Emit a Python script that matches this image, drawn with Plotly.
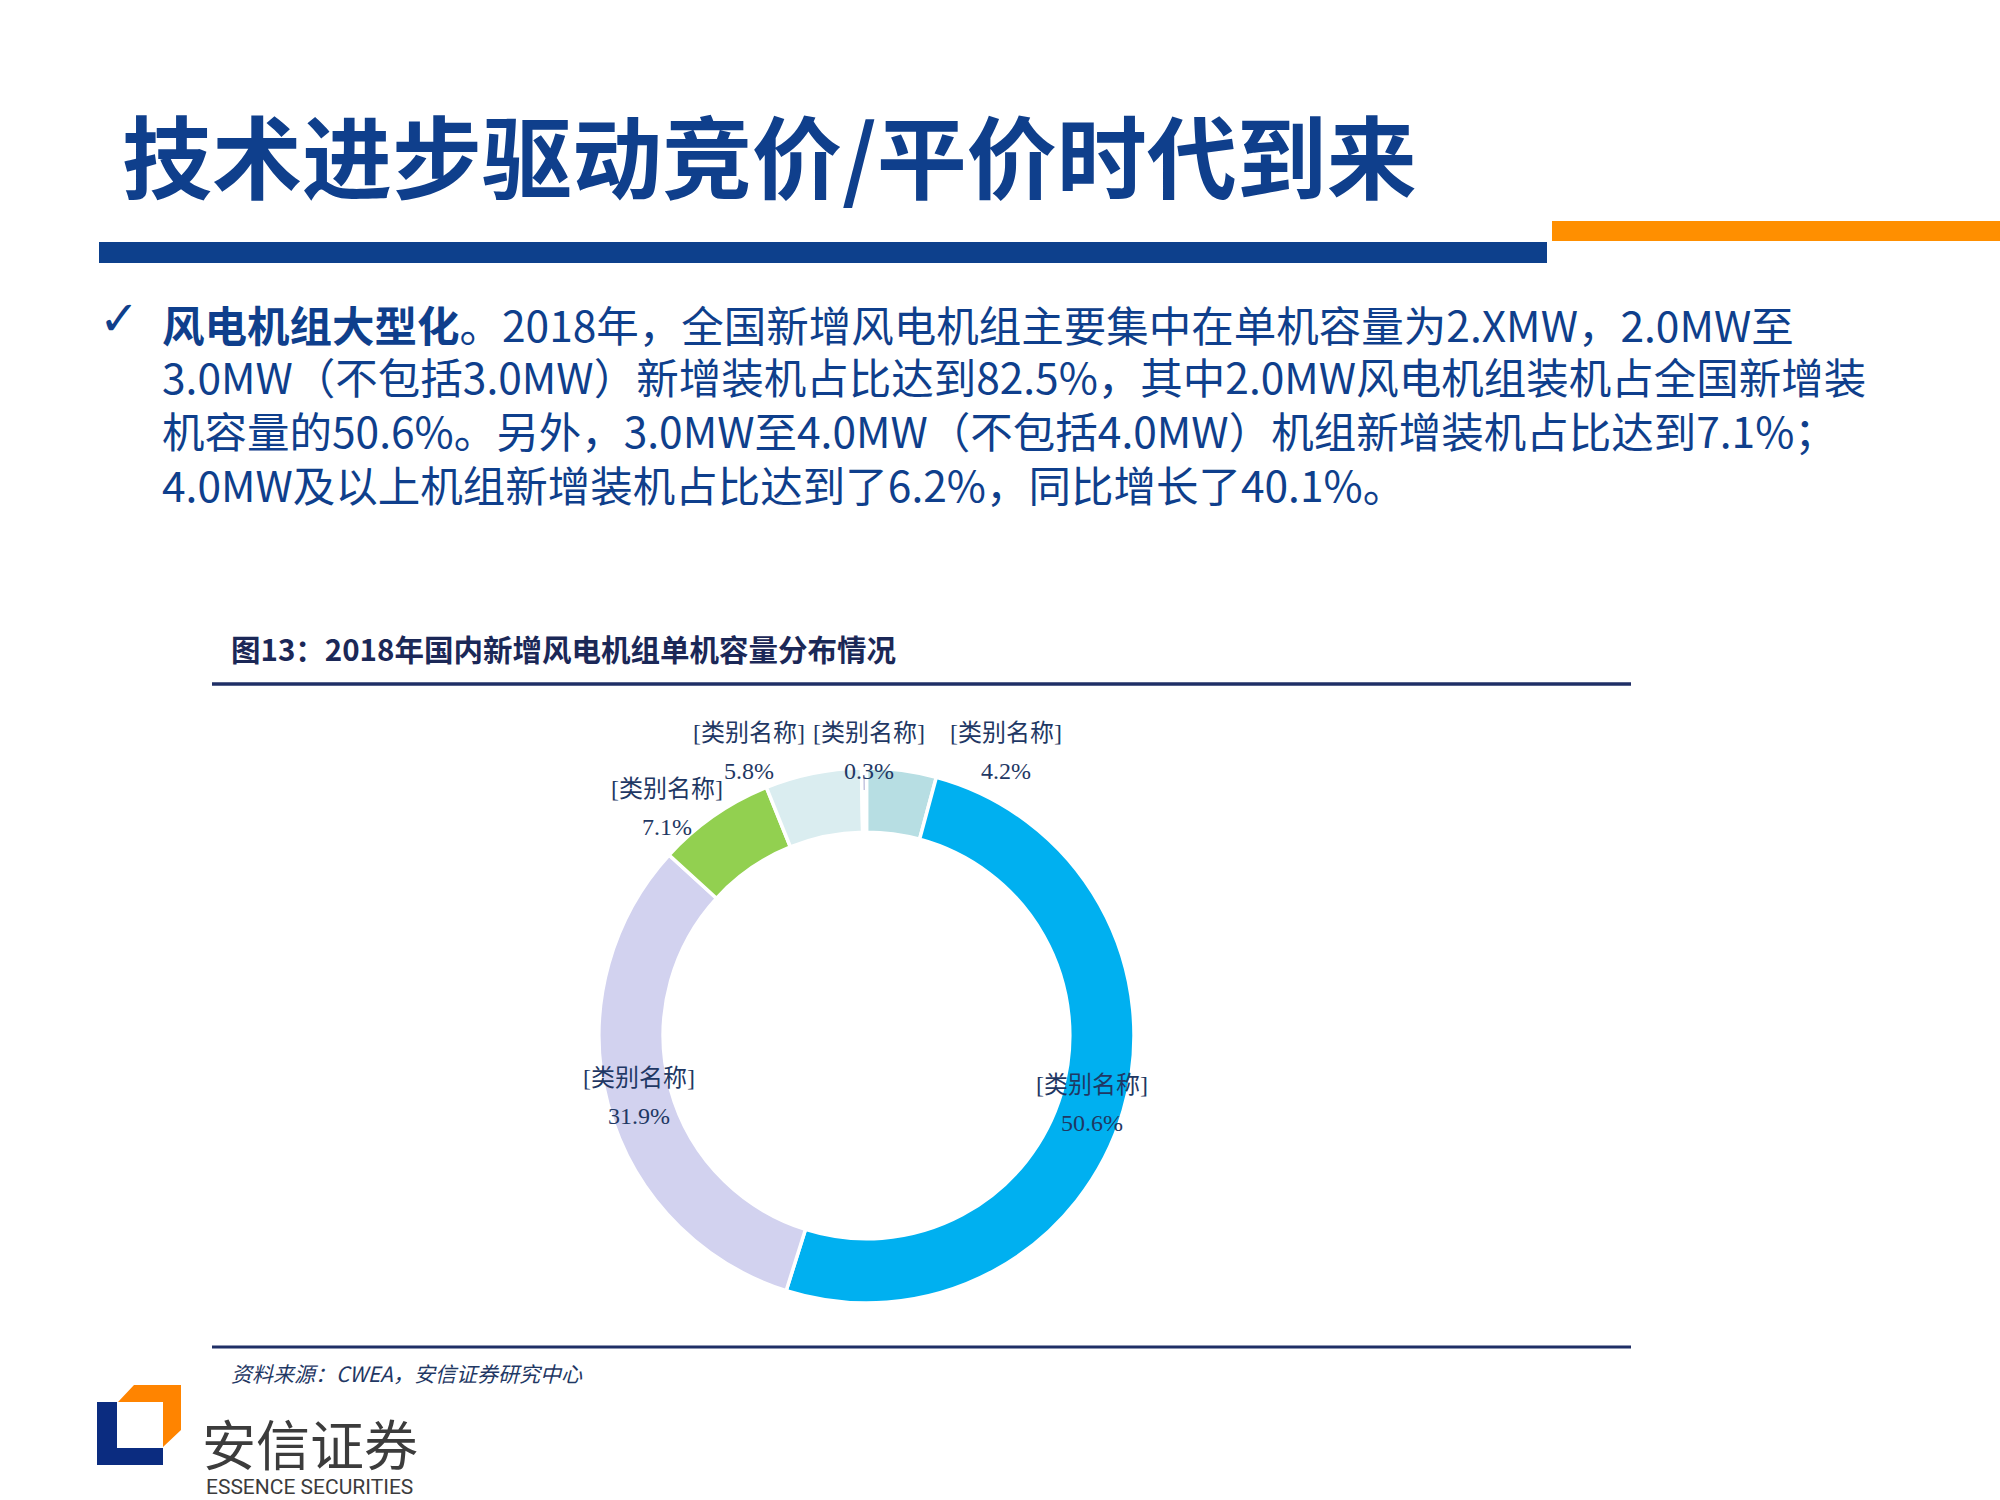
import math
import plotly.graph_objects as go

# ---------------- data ----------------
category_names = ["[类别名称]", "[类别名称]", "[类别名称]", "[类别名称]", "[类别名称]", "[类别名称]"]
shares = [4.2, 50.6, 31.9, 7.1, 5.8, 0.3]
slice_colors = ["#B7DEE3", "#00B0F0", "#D2D2EF", "#92D050", "#DAEDF0", "#FFFFFF"]

title_text = "技术进步驱动竞价/平价时代到来"
body_lines = [
    "<b>风电机组大型化</b>。2018年，全国新增风电机组主要集中在单机容量为2.XMW，2.0MW至",
    "3.0MW（不包括3.0MW）新增装机占比达到82.5%，其中2.0MW风电机组装机占全国新增装",
    "机容量的50.6%。另外，3.0MW至4.0MW（不包括4.0MW）机组新增装机占比达到7.1%；",
    "4.0MW及以上机组新增装机占比达到了6.2%，同比增长了40.1%。",
]
chart_title = "图13：2018年国内新增风电机组单机容量分布情况"
source_text = "资料来源：CWEA，安信证券研究中心"

# ---------------- layout helpers ----------------
W, H = 2000, 1500


def px(x):
    return x / W


def py(y):
    return 1 - y / H


BLUE = "#0F3F8C"
NAVY = "#1B2857"
LABEL = "#1F3864"

# donut geometry (pixels)
CX, CY, R = 866.5, 1035.5, 267.5
HOLE = 0.76

fig = go.Figure()
fig.add_trace(go.Pie(
    values=shares,
    sort=False,
    direction="clockwise",
    rotation=0,
    hole=HOLE,
    marker=dict(colors=slice_colors, line=dict(color="#FFFFFF", width=3.5)),
    textinfo="none",
    hoverinfo="percent",
    showlegend=False,
    domain=dict(x=[px(CX - R), px(CX + R)], y=[py(CY + R), py(CY - R)]),
))

annotations = []
shapes = []

# title
annotations.append(dict(x=px(120), y=py(153), xref="paper", yref="paper", xanchor="left", yanchor="middle",
                        text="<b>" + title_text + "</b>", showarrow=False,
                        font=dict(family="Noto Sans CJK SC", size=90, color=BLUE)))
# header bars
shapes.append(dict(type="rect", xref="paper", yref="paper", x0=px(99), x1=px(1547), y0=py(263), y1=py(242),
                   fillcolor="#0D408C", line=dict(width=0)))
shapes.append(dict(type="rect", xref="paper", yref="paper", x0=px(1552), x1=px(2000), y0=py(241), y1=py(221),
                   fillcolor="#FF8F00", line=dict(width=0)))

# check mark + body
annotations.append(dict(x=px(97), y=py(318), xref="paper", yref="paper", xanchor="left", yanchor="middle",
                        text="<b>✓</b>", showarrow=False,
                        font=dict(family="DejaVu Sans", size=48, color=BLUE)))
body_y = [324, 376, 429, 483]
for t, yy in zip(body_lines, body_y):
    annotations.append(dict(x=px(160), y=py(yy), xref="paper", yref="paper", xanchor="left", yanchor="middle",
                            text=t, showarrow=False,
                            font=dict(family="Noto Sans CJK SC", size=42.5, color=BLUE)))

# chart title and rules
annotations.append(dict(x=px(229), y=py(648), xref="paper", yref="paper", xanchor="left", yanchor="middle",
                        text="<b>" + chart_title + "</b>", showarrow=False,
                        font=dict(family="Noto Sans CJK SC", size=29.5, color=NAVY)))
shapes.append(dict(type="line", xref="paper", yref="paper", x0=px(212), x1=px(1631), y0=py(684), y1=py(684),
                   line=dict(color="#1F2F66", width=3.5)))
shapes.append(dict(type="line", xref="paper", yref="paper", x0=px(212), x1=px(1631), y0=py(1347), y1=py(1347),
                   line=dict(color="#1F2F66", width=3)))
annotations.append(dict(x=px(229), y=py(1373), xref="paper", yref="paper", xanchor="left", yanchor="middle",
                        text="<i>" + source_text + "</i>", showarrow=False,
                        font=dict(family="Noto Sans CJK SC", size=21, color=LABEL)))

# data labels, placed from slice mid-angles
r_in = R * HOLE
label_mode = ["out", "in", "in", "out", "out", "out"]
label_nudge = [(100, 14), (0, 2), (0, 0), (-28, 19), (-58, 10), (5, 16)]
total = sum(shares)
cum = 0.0
for i, v in enumerate(shares):
    mid = (cum + v / 2) / total
    cum += v
    th = 2 * math.pi * mid
    rr = (R + r_in) / 2 if label_mode[i] == "in" else 300
    lx = CX + rr * math.sin(th) + label_nudge[i][0]
    ly = CY - rr * math.cos(th) + label_nudge[i][1]
    annotations.append(dict(x=px(lx), y=py(ly - 19), xref="paper", yref="paper", xanchor="center", yanchor="middle",
                            text=category_names[i], showarrow=False,
                            font=dict(family="Liberation Serif, Noto Sans CJK SC", size=24, color=LABEL)))
    annotations.append(dict(x=px(lx), y=py(ly + 19), xref="paper", yref="paper", xanchor="center", yanchor="middle",
                            text=f"{v:.1f}%", showarrow=False,
                            font=dict(family="Liberation Serif", size=24, color=LABEL)))
    if v < 1:
        # short leader line for the tiny slice
        r0, r1 = R - 7, R - 22
        shapes.append(dict(type="line", xref="paper", yref="paper",
                           x0=px(CX + r0 * math.sin(th)), y0=py(CY - r0 * math.cos(th)),
                           x1=px(CX + r1 * math.sin(th)), y1=py(CY - r1 * math.cos(th)),
                           line=dict(color="#A8A8D0", width=1)))

# logo
LOGO_BLUE = "#0B2C80"
LOGO_ORANGE = "#FF8400"
shapes.append(dict(type="rect", xref="paper", yref="paper", x0=px(97), x1=px(117), y0=py(1465), y1=py(1402),
                   fillcolor=LOGO_BLUE, line=dict(width=0)))
shapes.append(dict(type="rect", xref="paper", yref="paper", x0=px(97), x1=px(163), y0=py(1465), y1=py(1448),
                   fillcolor=LOGO_BLUE, line=dict(width=0)))
pts = [(118, 1402), (134, 1385), (181, 1385), (181, 1430), (163, 1447), (163, 1402)]
path = "M " + " L ".join(f"{px(a):.5f},{py(b):.5f}" for a, b in pts) + " Z"
shapes.append(dict(type="path", xref="paper", yref="paper", path=path,
                   fillcolor=LOGO_ORANGE, line=dict(width=0)))
annotations.append(dict(x=px(200), y=py(1442), xref="paper", yref="paper", xanchor="left", yanchor="middle",
                        text="安信证券", showarrow=False,
                        font=dict(family="Noto Sans CJK SC", size=54, color="#3C3C3C")))
annotations.append(dict(x=px(204), y=py(1487), xref="paper", yref="paper", xanchor="left", yanchor="middle",
                        text="ESSENCE SECURITIES", showarrow=False,
                        font=dict(family="Liberation Sans Narrow, Roboto", size=21, color="#3C3C3C")))

fig.update_layout(
    width=W, height=H,
    margin=dict(l=0, r=0, t=0, b=0),
    paper_bgcolor="white", plot_bgcolor="white",
    annotations=annotations, shapes=shapes,
    showlegend=False,
)
fig.write_html("out.html",
               config={"displayModeBar": False},
               post_script="document.body.style.margin='0';document.body.style.padding='0';"
                           "document.documentElement.style.overflow='hidden';")
